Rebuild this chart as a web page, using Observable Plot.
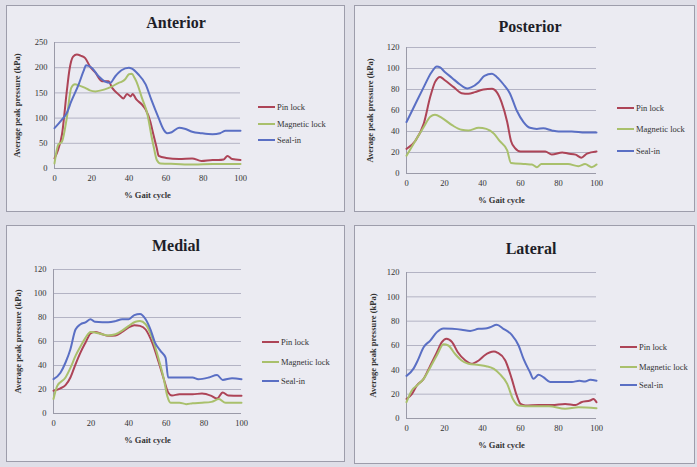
<!DOCTYPE html>
<html>
<head>
<meta charset="utf-8">
<script src="https://cdn.jsdelivr.net/npm/d3@7"></script>
<script src="https://cdn.jsdelivr.net/npm/@observablehq/plot@0.6"></script>
<style>
  html, body { margin: 0; padding: 0; }
  body { width: 697px; height: 467px; position: relative; overflow: hidden; background: #dfdfe8; font-family: "Liberation Serif", serif; }
  .panel { position: absolute; box-sizing: border-box; border: 1px solid #9d9dab; background: #ebebf2; }
  .title { position: absolute; width: 200px; text-align: center; font-weight: bold; font-size: 16px; line-height: 16px; color: #1e1e28; }
  .leg { position: absolute; display: flex; align-items: center; height: 10px; font-size: 8.5px; color: #333; white-space: nowrap; }
  .leg span.sw { display: inline-block; width: 17px; height: 2px; margin-right: 2px; }
  svg { position: absolute; overflow: visible; }
  svg, svg text { font-family: "Liberation Serif", serif !important; }
</style>
</head>
<body>
<script>
// ---- series names & colours ----
const seriesNames = ["Pin lock", "Magnetic lock", "Seal-in"];
const seriesColors = ["#ad4457", "#a9c06c", "#5a6fc4"];
const xTicks = [0, 20, 40, 60, 80, 100];

// ---- Anterior ----
const anteriorTicks = [0, 50, 100, 150, 200, 250];
const anteriorPin = [[0,20],[2,38],[4,67],[6.6,153],[8,195],[10,222],[12,226],[14,224],[16.5,219],[19,203],[22,190],[25.5,173],[29,173],[31,160],[34.5,147],[37,139],[39,148],[41,143],[42,148],[44,137],[47,127],[49,117],[51.5,93],[53,70],[55,40],[56,25],[60,21],[67,19],[74,20],[79,15],[85,17],[88,17],[91,18],[93,25],[95.5,19],[100,17]];
const anteriorMagnetic = [[0,10],[2,47],[4,53],[6.6,100],[9,160],[11,167],[13,165],[16.5,160],[19,155],[22,153],[25,155],[27,157],[31,163],[34.5,170],[36,172],[38,177],[40,187],[41.6,188],[43,180],[44,173],[47,140],[50,107],[52,67],[53.5,40],[55,17],[57,10],[65,9],[75,8],[85,9],[95,9],[100,9]];
const anteriorSeal = [[0,80],[4,97],[6.6,110],[9,133],[13,167],[15.6,193],[17,205],[20,200],[23.7,183],[27,173],[30,170],[32.7,183],[36,195],[40,200],[41.6,198],[45,187],[49,167],[52,137],[56,100],[58.7,77],[60.5,70],[63,72],[67,81],[70,79],[74,73],[79,70],[85,68],[89,70],[92,75],[100,75]];

// ---- Posterior ----
const posteriorTicks = [0, 20, 40, 60, 80, 100, 120];
const posteriorPin = [[0,23.5],[4.6,31],[9,47],[12.5,73],[15,87],[17.7,92],[20,89],[25,82],[29,76.5],[32.6,76],[36,77.5],[40.5,80],[45,80.6],[47.5,77.5],[50,68],[53,49],[55,31],[57,24.4],[60,21],[66,21],[73,21],[76.5,18],[82,20],[85,19],[89,18],[92,15],[95,19],[100,21]];
const posteriorMagnetic = [[0,17],[4.6,31],[9,44],[12.5,54],[15,56],[18.6,53],[24,46],[29,41.6],[32.6,41],[38,43.5],[42,42.5],[46,38],[49,31],[53,22],[55,10],[62.5,9],[66,8.6],[68.6,6],[71,9],[78,9],[85,9],[90.5,7],[94,9],[97.5,6],[100,8.6]];
const posteriorSeal = [[0,49],[4.6,66],[9,82],[13,96],[16,102],[17.7,101],[20,97],[24,91],[28,85],[32,81],[34,82],[38,87],[41,93],[45,95],[47.5,92],[51,85],[54.5,76],[58,60],[61.6,49],[65,43.5],[68.6,42.5],[72,43],[76.5,41],[80,40],[87,40],[94,39],[100,39]];

// ---- Medial ----
const medialTicks = [0, 20, 40, 60, 80, 100, 120];
const medialPin = [[0,19],[3.7,21],[6.4,23.6],[9,30],[11.7,41],[14.4,51],[17,59],[19.7,66.7],[22,68],[26,66],[29,64.7],[33,65],[36.5,68],[40,71.7],[43,73.6],[46,73],[49,70],[52.5,59],[56,42.5],[58.7,28.6],[61,17.5],[63,15],[67,16],[74,16],[79,16.7],[84,14.7],[87,12.5],[90,17.5],[93,15],[100,14.7]];
const medialMagnetic = [[0,12],[2,23],[6.4,30],[9,38],[11.7,48],[14.4,56],[17,63],[19.7,68],[22,67.5],[26,66],[29,65],[33,66],[36.5,69],[40,73],[43.6,76.4],[46,77],[49,74.4],[52.5,63],[56,45],[58.7,28.6],[60.5,14.7],[62.3,9],[67,9],[70.6,7.8],[74,8.6],[79,9],[84,9.7],[88,12],[91.5,9],[100,9]];
const medialSeal = [[0,28.6],[3.7,34],[6.4,42.5],[9,53.6],[11.7,70],[14.4,74.4],[17,76],[19.7,78.6],[22,76.4],[26,76],[29,76],[33,77],[36.5,78.6],[40,78.6],[43,82],[46,83],[49,78.6],[51.6,70],[54,59],[57,52],[59.6,46.6],[61,30],[67,30],[74,30],[77,28.6],[82.6,30],[87,32],[90,28],[95,29.4],[100,28.6]];

// ---- Lateral ----
const lateralTicks = [0, 20, 40, 60, 80, 100, 120];
const lateralPin = [[0,16],[2.8,20],[5.4,27],[9,32.6],[12.5,43.5],[16,54.5],[18.6,62.7],[21,65.5],[24,62.7],[27,54.5],[31,47.7],[34,45],[38,47.7],[41,51.8],[46,55],[48,54],[52,47.7],[55.4,32.6],[58,19],[60,12],[62.5,10.7],[69.5,11],[76.5,11],[83.5,12],[89,11],[92,13.4],[96.7,14.8],[98.4,16],[100,13.4]];
const lateralMagnetic = [[0,13.4],[2.8,23],[5.4,27],[9,32.6],[12.5,42],[16,52],[19.5,61],[22,60],[25.6,53],[29,47.7],[32.6,45],[38,44],[42,43],[46,40.8],[49,36.7],[53,28.5],[56,16],[59,10.7],[66,10],[75,10],[83.5,8],[90.5,9.3],[100,8.5]];
const lateralSeal = [[0,35],[3.7,41],[6,48],[9,58.6],[12.5,64],[16,71],[19.5,74],[24,73.7],[29,73],[33.5,72],[38,73.7],[41.4,74],[44,75],[47.5,77],[51,73.7],[55.4,68.8],[59,60],[61.6,49],[65,38],[66.8,32.6],[69.5,36],[72,34],[75.6,30],[80,30],[87,30],[91,31],[94,30.4],[96.7,31.8],[100,31]];

// ---- layout (positions only) ----
const panels = [
  {title: "Anterior", series: [anteriorPin, anteriorMagnetic, anteriorSeal], ticks: anteriorTicks,
   box: {l: 6, t: 5, w: 339, h: 207}, frame: {x0: 54, x1: 240, y0: 42, y1: 168},
   titleX: 176, titleBase: 28, legX: 258, legY: [107, 124, 140], yLabOff: 41},
  {title: "Posterior", series: [posteriorPin, posteriorMagnetic, posteriorSeal], ticks: posteriorTicks,
   box: {l: 354, t: 5, w: 341, h: 207}, frame: {x0: 406, x1: 596, y0: 47, y1: 173},
   titleX: 530, titleBase: 32, legX: 617, legY: [108, 129, 151], yLabOff: 40},
  {title: "Medial", series: [medialPin, medialMagnetic, medialSeal], ticks: medialTicks,
   box: {l: 6, t: 225, w: 339, h: 237}, frame: {x0: 53, x1: 241, y0: 269, y1: 413},
   titleX: 176, titleBase: 251, legX: 262, legY: [342, 362, 381], yLabOff: 39},
  {title: "Lateral", series: [lateralPin, lateralMagnetic, lateralSeal], ticks: lateralTicks,
   box: {l: 354, t: 225, w: 341, h: 239}, frame: {x0: 406, x1: 596, y0: 272, y1: 418},
   titleX: 531, titleBase: 254, legX: 620, legY: [347, 367, 385], yLabOff: 37}
];

for (const p of panels) {
  const box = document.createElement("div");
  box.className = "panel";
  Object.assign(box.style, {left: p.box.l + "px", top: p.box.t + "px", width: p.box.w + "px", height: p.box.h + "px"});
  document.body.appendChild(box);

  const t = document.createElement("div");
  t.className = "title";
  t.textContent = p.title;
  t.style.left = (p.titleX - 100) + "px";
  t.style.top = (p.titleBase - 13.4) + "px";
  document.body.appendChild(t);

  const svgLeft = p.box.l + 1;
  const mt = 10, mb = 36, mr = 12;
  const ml = p.frame.x0 - svgLeft;
  const fw = p.frame.x1 - p.frame.x0, fh = p.frame.y1 - p.frame.y0;
  const ymax = p.ticks[p.ticks.length - 1];

  const marks = [
    Plot.gridY(p.ticks, {stroke: "#b3b3c4", strokeOpacity: 1, strokeWidth: 1}),
    Plot.ruleX([0], {stroke: "#9a9aa8"}),
    Plot.ruleY([0], {stroke: "#9a9aa8"}),
    Plot.axisX({ticks: xTicks, tickSize: 0, tickPadding: 6, fontSize: 8.5,
      label: "% Gait cycle", labelAnchor: "center", labelOffset: 29, labelArrow: "none"}),
    Plot.axisY({ticks: p.ticks, tickSize: 0, tickPadding: 7, fontSize: 8.5,
      label: "Average peak pressure (kPa)", labelAnchor: "center", labelOffset: p.yLabOff, labelArrow: "none"})
  ];
  p.series.forEach((s, i) => {
    marks.push(Plot.line(s, {x: d => d[0], y: d => d[1], stroke: seriesColors[i], strokeWidth: 2, curve: "monotone-x"}));
  });

  const chart = Plot.plot({
    width: ml + fw + mr, height: mt + fh + mb,
    marginLeft: ml, marginRight: mr, marginTop: mt, marginBottom: mb,
    style: {background: "transparent", fontFamily: "\"Liberation Serif\", serif", fontSize: "8.5px", color: "#333", overflow: "visible"},
    x: {domain: [0, 100]},
    y: {domain: [0, ymax]},
    marks
  });
  chart.style.left = svgLeft + "px";
  chart.style.top = (p.frame.y0 - mt) + "px";
  chart.querySelectorAll('[aria-label="x-axis label"] text, [aria-label="y-axis label"] text').forEach(el => {
    el.setAttribute("font-weight", "bold");
    el.setAttribute("font-size", "8.5");
  });
  document.body.appendChild(chart);

  seriesNames.forEach((name, i) => {
    const row = document.createElement("div");
    row.className = "leg";
    row.style.left = p.legX + "px";
    row.style.top = (p.legY[i] - 5) + "px";
    const sw = document.createElement("span");
    sw.className = "sw";
    sw.style.background = seriesColors[i];
    row.appendChild(sw);
    row.appendChild(document.createTextNode(name));
    document.body.appendChild(row);
  });
}
</script>
</body>
</html>
